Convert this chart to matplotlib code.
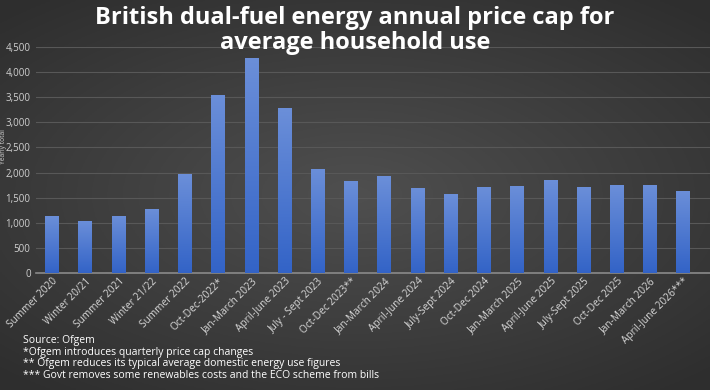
import numpy as np
import matplotlib
matplotlib.use("Agg")
import matplotlib.pyplot as plt
from matplotlib.ticker import FuncFormatter

# Ofgem price cap periods and yearly totals (GBP)
periods = ["Summer 2020", "Winter 20/21", "Summer 2021", "Winter 21/22", "Summer 2022",
           "Oct-Dec-2022*", "Jan-March 2023", "April-June 2023", "July - Sept 2023",
           "Oct-Dec 2023**", "Jan-March 2024", "April-June 2024", "July-Sept 2024",
           "Oct-Dec 2024", "Jan-March 2025", "April-June 2025", "July-Sept 2025",
           "Oct-Dec 2025", "Jan-March 2026", "April-June 2026***"]
price_cap = [1126, 1042, 1138, 1277, 1971, 3549, 4279, 3280, 2074, 1834,
             1928, 1690, 1568, 1717, 1738, 1849, 1720, 1755, 1758, 1641]
y_ticks = [0, 500, 1000, 1500, 2000, 2500, 3000, 3500, 4000, 4500]
notes = ["Source: Ofgem",
         "*Ofgem introduces quarterly price cap changes",
         "** Ofgem reduces its typical average domestic energy use figures",
         "*** Govt removes some renewables costs and the ECO scheme from bills"]

plt.rcParams['font.family'] = ['Open Sans', 'DejaVu Sans']

fig = plt.figure(figsize=(7.1, 3.9), dpi=100)

# dark radial background
bg = fig.add_axes([0, 0, 1, 1], zorder=-10)
gx, gy = np.meshgrid(np.linspace(-1, 1, 300), np.linspace(-1, 1, 200))
r = np.sqrt(gx**2 + (gy * 1.1)**2)
shade = 0.31 - 0.09 * np.clip(r, 0, 1.4)
bg.imshow(np.dstack([shade, shade, shade]), aspect='auto', extent=[0, 1, 0, 1])
bg.set_axis_off()

ax = fig.add_axes([0.051, 0.30, 0.949, 0.5795])
ax.patch.set_alpha(0)

x = np.arange(len(periods))
bars = ax.bar(x, price_cap, width=0.42, color='#4a78d0', zorder=3)

# vertical gradient inside each bar
grad = np.linspace(0, 1, 100).reshape(-1, 1)
top_c = np.array([0.42, 0.56, 0.85])
bot_c = np.array([0.20, 0.39, 0.78])
img = (bot_c + (top_c - bot_c) * grad)[:, None, :].repeat(2, axis=1)
for b in bars:
    x0, w, h = b.get_x(), b.get_width(), b.get_height()
    im = ax.imshow(img, extent=[x0, x0 + w, 0, h], origin='lower',
                   aspect='auto', zorder=4)
    im.set_clip_path(b)

ax.set_xlim(-0.48, 19.8)
ax.set_ylim(0, 4500)
ax.set_yticks(y_ticks)
ax.yaxis.set_major_formatter(FuncFormatter(lambda v, p: f"{int(v):,}"))
ax.grid(axis='y', color='#585858', linewidth=0.8, zorder=0)
for s in ['top', 'right', 'left']:
    ax.spines[s].set_visible(False)
ax.spines['bottom'].set_color('#8a8a8a')
ax.spines['bottom'].set_linewidth(1.2)
ax.tick_params(axis='both', length=0, colors='#d0d0d0', labelsize=7)
ax.tick_params(axis='y', pad=4)
ax.tick_params(axis='x', pad=2)
ax.set_xticks(x)
ax.set_xticklabels(periods, rotation=45, ha='right', rotation_mode='anchor',
                   fontsize=7.3, color='#d8d8d8')

fig.text(0.5, 0.985, "British dual-fuel energy annual price cap for\naverage household use",
         ha='center', va='top', fontsize=17, fontweight='bold', color='white',
         linespacing=1.05)

fig.text(0.0045, 0.623, "Yearly total", rotation=90, ha='center', va='center',
         fontsize=4.8, color='#d0d0d0')

for i, n in enumerate(notes):
    fig.text(0.032, 0.126 - i * 0.0295, n, ha='left', va='center',
             fontsize=7.5, color='white')

fig.savefig("out.png", dpi=100)
